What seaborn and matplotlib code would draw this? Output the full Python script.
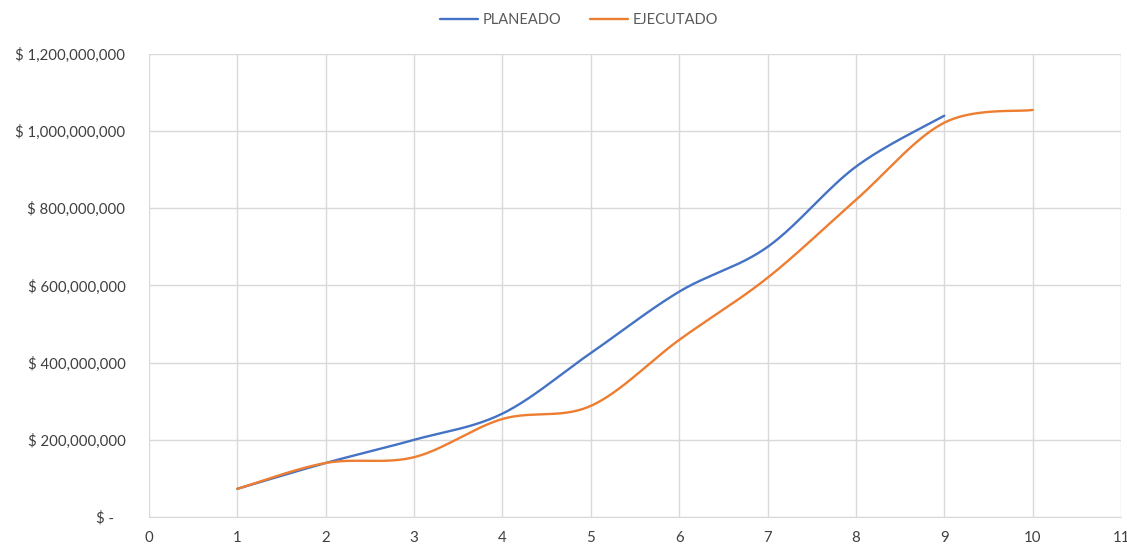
import numpy as np
import pandas as pd
import matplotlib
matplotlib.use("Agg")
import matplotlib.pyplot as plt
import seaborn as sns
from matplotlib.ticker import FuncFormatter, MultipleLocator

# values
periodos_plan = [1, 2, 3, 4, 5, 6, 7, 8, 9]
planeado = [73e6, 140e6, 200e6, 268e6, 425e6, 584e6, 700e6, 908e6, 1040e6]

periodos_ejec = [1, 2, 3, 4, 5, 6, 7, 8, 9, 10]
ejecutado = [73e6, 140e6, 155e6, 254e6, 288e6, 459e6, 620e6, 822e6, 1022e6, 1055e6]

series_names = ["PLANEADO", "EJECUTADO"]
colors = {"PLANEADO": "#4472C4", "EJECUTADO": "#ED7D31"}


def smooth(xs, ys, n=40):
    """Excel-style smoothed line (cubic Bezier through every point)."""
    p = np.column_stack([xs, ys]).astype(float)
    ext = np.vstack([p[0], p, p[-1]])
    out = []
    t = np.linspace(0, 1, n)[:, None]
    for i in range(len(p) - 1):
        p0, p3 = p[i], p[i + 1]
        c1 = p0 + (ext[i + 2] - ext[i]) / 6
        c2 = p3 - (ext[i + 3] - ext[i + 1]) / 6
        seg = ((1 - t) ** 3) * p0 + 3 * ((1 - t) ** 2) * t * c1 + 3 * (1 - t) * t ** 2 * c2 + t ** 3 * p3
        out.append(seg if i == 0 else seg[1:])
    out = np.vstack(out)
    return out[:, 0], out[:, 1]


frames = []
for name, xs, ys in [("PLANEADO", periodos_plan, planeado), ("EJECUTADO", periodos_ejec, ejecutado)]:
    sx, sy = smooth(xs, ys)
    frames.append(pd.DataFrame({"periodo": sx, "valor": sy, "serie": name}))
df = pd.concat(frames, ignore_index=True)

sns.set_style("white")
plt.rcParams["font.family"] = ["Lato", "DejaVu Sans"]

fig = plt.figure(figsize=(11.27, 5.45), dpi=100)
ax = fig.add_axes([0.1322, 0.0514, 0.8625, 0.8495])

sns.lineplot(
    data=df, x="periodo", y="valor", hue="serie", hue_order=series_names,
    palette=colors, sort=False, estimator=None, linewidth=1.7, ax=ax,
)

ax.set_xlim(0, 11)
ax.set_ylim(0, 1.2e9)
ax.xaxis.set_major_locator(MultipleLocator(1))
ax.yaxis.set_major_locator(MultipleLocator(2e8))


def money(v, pos):
    if abs(v) < 1:
        return "$ -   "
    return "$ {:,.0f}".format(v)


ax.yaxis.set_major_formatter(FuncFormatter(money))
ax.grid(True, color="#D9D9D9", linewidth=1)
for s in ["top", "right", "left"]:
    ax.spines[s].set_visible(False)
ax.spines["bottom"].set_color("#D9D9D9")
ax.tick_params(axis="both", length=0, labelsize=10.8, labelcolor="#404040")
ax.tick_params(axis="y", pad=17)
ax.tick_params(axis="x", pad=10)
ax.set_xlabel("")
ax.set_ylabel("")

handles, labels = ax.get_legend_handles_labels()
ax.get_legend().remove()
fig.legend(handles, labels, loc="upper center", bbox_to_anchor=(0.514, 1.0), ncol=2,
           frameon=False, fontsize=10.5, labelcolor="#595959", handlelength=2.6,
           columnspacing=2.0, handletextpad=0.3)

fig.savefig("out.png", dpi=100)
